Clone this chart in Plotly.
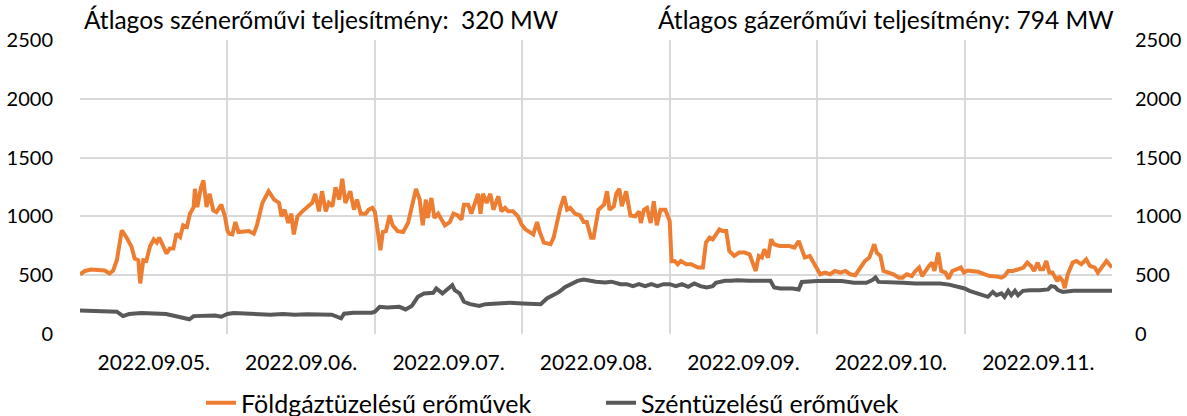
import plotly.graph_objects as go

days = ["2022.09.05.", "2022.09.06.", "2022.09.07.", "2022.09.08.",
        "2022.09.09.", "2022.09.10.", "2022.09.11."]

gas_hours = [0, 0.8, 1.8, 2.9, 4, 4.8, 5.4, 6, 6.5, 6.8, 7.6, 8.4, 8.9, 9.5, 9.8, 10.3, 10.8, 11.4, 12, 12.5,
             12.9, 13.5, 14.1, 14.6, 15.2, 15.7, 16.3, 16.8, 17.4, 17.9, 18.5, 18.7, 19.1, 19.7, 20.1, 20.6,
             21.1, 21.7, 22.2, 23, 23.6, 24, 24.3, 24.8, 25.3, 25.8, 26.7, 27.5, 28.3, 28.8, 29.7, 30.7,
             31.6, 32.4, 32.8, 33.3, 33.9, 34.4, 34.8, 35.4, 36.2, 36.9, 37.8, 38.3, 38.9, 39.4, 40, 40.5,
             41.1, 41.6, 42.2, 42.7, 43.2, 44, 44.6, 45.1, 45.7, 46.5, 47, 47.6, 48, 48.4, 48.9, 49.3, 49.8,
             50.4, 50.9, 51.7, 52.6, 53.4, 54.2, 54.7, 55.3, 55.8, 56.3, 56.6, 57.2, 57.7, 58.3, 58.8, 59.4,
             60.2, 60.8, 61.5, 62.1, 62.5, 63.2, 63.7, 64.3, 64.8, 65.2, 65.6, 66.2, 66.8, 67.3, 68.1, 68.6,
             69.2, 69.7, 70.5, 71.3, 71.9, 72.5, 73.3, 73.8, 74.4, 74.8, 75.5, 76.6, 77.1, 77.6, 78.2, 78.8,
             79.3, 79.8, 80.6, 81.4, 82, 82.5, 83.2, 83.6, 84.4, 85.3, 85.8, 86.2, 86.9, 87.3, 87.8, 88.2,
             88.9, 89.6, 90.4, 91, 91.3, 91.8, 92.3, 92.9, 93.4, 93.9, 94.5, 95.3, 95.9, 96, 96.3, 96.8,
             97.3, 97.8, 98.7, 99.5, 100.6, 101.4, 101.9, 102.5, 103, 103.6, 104.1, 104.6, 105.2, 105.7,
             106.5, 107.3, 108.2, 109, 109.5, 110, 110.5, 111, 111.4, 112, 112.5, 113, 113.9, 114.7, 115.5,
             116.3, 117, 117.5, 118, 118.8, 119.6, 120.1, 120.5, 121.3, 122.1, 122.9, 123.8, 124.6, 125.4,
             126.2, 127, 127.8, 128.5, 128.9, 129.3, 129.7, 130.3, 130.8, 131.6, 132.4, 133.3, 133.9, 134.6,
             135.4, 136, 136.6, 137.1, 137.6, 138.2, 138.7, 139.1, 139.7, 140.2, 140.9, 141.4, 142, 142.8,
             143.4, 143.9, 144.5, 145.1, 146.2, 147.3, 148.1, 149.2, 150, 150.5, 151.1, 151.9, 152.8, 153.6,
             154.2, 154.8, 155.3, 155.9, 156.3, 156.8, 157.3, 157.8, 158.3, 158.7, 159.1, 159.4, 160, 160.3,
             160.8, 161.6, 162.2, 163, 163.8, 164.4, 165.2, 165.7, 166.3, 167.1, 168]
gas_mw = [505, 536, 548, 548, 540, 514, 540, 627, 825, 881, 819, 740, 641, 627, 430, 627, 621, 746, 805, 777,
          819, 746, 684, 726, 726, 853, 825, 924, 910, 1023, 1079, 1234, 1079, 1248, 1305, 1079,
          1192, 1051, 1037, 1100, 1000, 880, 853, 847, 952, 867, 867, 875, 853, 924, 1115, 1214,
          1143, 1115, 1000, 1057, 944, 1023, 847, 1000, 1043, 1072, 1115, 1192, 1043, 1214, 1043, 1115,
          1086, 1248, 1143, 1320, 1115, 1214, 1057, 1143, 1023, 1023, 1057, 1072, 1040, 900, 712, 867, 875,
          1008, 924, 875, 867, 944, 1143, 1234, 1143, 924, 1143, 987, 1157, 987, 1023, 973, 924,
          952, 1023, 1008, 973, 1100, 1100, 1023, 1115, 1192, 1023, 1192, 1115, 1192, 1057, 1171, 1043,
          1072, 1043, 1043, 1000, 930, 890, 867, 847, 952, 875, 777, 763, 819, 952, 1072, 1171,
          1057, 1072, 1023, 1008, 952, 952, 819, 819, 1057, 1100, 1214, 1057, 1086, 1192, 1234, 1086,
          1214, 1008, 1000, 1043, 944, 1057, 1072, 944, 1129, 924, 1057, 1057, 990, 960, 620, 621,
          593, 621, 593, 593, 565, 565, 777, 819, 805, 847, 889, 875, 875, 706,
          664, 692, 692, 678, 607, 536, 664, 650, 720, 650, 805, 763, 748, 748, 748,
          734, 791, 720, 650, 664, 593, 560, 508, 522, 508, 536, 522, 536, 508,
          500, 565, 621, 650, 720, 763, 692, 664, 536, 522, 508, 479, 479, 508,
          493, 536, 565, 493, 536, 579, 607, 536, 692, 536, 522, 470, 536, 550,
          565, 522, 540, 536, 529, 508, 493, 490, 479, 493, 536, 536, 550, 565,
          607, 579, 536, 607, 550, 550, 621, 522, 522, 479, 449, 490, 449, 390,
          508, 607, 621, 593, 635, 579, 565, 522, 565, 621, 565]

coal_hours = [0, 4.8, 6, 7, 8, 10, 12, 14, 16, 17.8, 18.5, 20, 22, 23, 24, 25, 27, 29, 31, 33, 35, 37, 39,
              41, 42.5, 43, 44.5, 46, 47.5, 48, 48.8, 50, 52, 53, 54, 55, 56, 57.5, 58, 59, 60, 60.6, 61,
              61.8, 62.5, 63.5, 65, 66, 68, 70, 72, 73.5, 75, 76, 77, 78, 79, 80, 81, 82, 83, 84, 85.5,
              86.5, 88, 89, 90, 91, 92, 93, 94, 95, 96, 97, 98, 99, 100, 101, 102, 103, 103.5, 105, 106,
              107, 109, 111, 112.4, 113, 114, 116, 117, 117.5, 119, 120, 122, 124, 126, 128, 129, 129.5,
              130, 132, 134, 136, 138, 140, 141.5, 143, 144, 144.8, 145.9, 147, 147.8, 148.6, 149.2, 150,
              150.5, 151.1, 151.6, 152.2, 152.7, 153.5, 154.6, 156.2, 157.6, 158.1, 158.7, 159.2, 160,
              161.7, 163.8, 166, 168]
coal_mw = [200, 197, 190, 152, 170, 178, 173, 170, 147, 125, 152, 152, 158, 147, 170, 178, 173, 170, 164, 170,
           164, 167, 164, 164, 133, 173, 181, 181, 181, 190, 231, 226, 231, 209, 238, 316, 345, 350, 387,
           345, 385, 415, 373, 345, 274, 254, 238, 254, 260, 266, 260, 254, 254, 302, 330, 358, 401, 430,
           452, 463, 452, 445, 438, 445, 424, 424, 407, 424, 407, 424, 407, 424, 424, 407, 424, 401, 430,
           407, 396, 407, 435, 452, 452, 458, 452, 452, 452, 396, 387, 387, 379, 443, 452, 450, 452, 450,
           435, 435, 458, 480, 443, 443, 435, 430, 430, 430, 420, 405, 387, 367, 345, 330, 316, 358, 330,
           345, 316, 367, 330, 367, 330, 367, 373, 373, 379, 407, 401, 373, 358, 367, 367, 367, 367]

y_ticks = [0, 500, 1000, 1500, 2000, 2500]

gas_name = "Földgáztüzelésű erőművek"
coal_name = "Széntüzelésű erőművek"
coal_avg_text = "Átlagos szénerőművi teljesítmény:  320 MW"
gas_avg_text = "Átlagos gázerőművi teljesítmény: 794 MW"

FONT = "Lato"
GRID = "#D9D9D9"
TXT = "#000000"

fig = go.Figure()
fig.add_trace(go.Scatter(x=gas_hours, y=gas_mw, mode="lines", name=gas_name,
                         line=dict(color="#ED7D31", width=4)))
fig.add_trace(go.Scatter(x=coal_hours, y=coal_mw, mode="lines", name=coal_name,
                         line=dict(color="#595959", width=4)))
# invisible trace to activate right axis
fig.add_trace(go.Scatter(x=[0], y=[0], yaxis="y2", mode="lines", showlegend=False,
                         hoverinfo="skip", line=dict(width=0)))

tickvals = [12 + 24 * i for i in range(len(days))]

FIG_H = 430

fig.update_layout(
    width=1187, height=FIG_H,
    margin=dict(l=80, r=75, t=40, b=96, autoexpand=False),
    paper_bgcolor="white", plot_bgcolor="white",
    font=dict(family=FONT, size=20, color=TXT),
    showlegend=True,
    legend=dict(orientation="h", xref="container", yref="container",
                x=201 / 1187, xanchor="left", y=27 / FIG_H, yanchor="middle",
                font=dict(family=FONT, size=25, color=TXT),
                entrywidth=355, entrywidthmode="pixels",
                bgcolor="rgba(0,0,0,0)"),
    xaxis=dict(range=[0, 168], tickmode="array", tickvals=tickvals, ticktext=days,
               showgrid=False, zeroline=False, ticks="", showline=False, automargin=False,
               ticklabelstandoff=14, tickfont=dict(size=21),
               minor=dict(tickmode="linear", tick0=0, dtick=24, showgrid=True,
                          gridcolor=GRID, gridwidth=1.5, ticks="")),
    yaxis=dict(range=[0, 2500], tickvals=y_ticks,
               showgrid=True, gridcolor=GRID, gridwidth=1.5, zeroline=False, automargin=False,
               ticks="", showline=False, ticklabelstandoff=26, tickfont=dict(size=20)),
    yaxis2=dict(range=[0, 2500], tickvals=y_ticks, automargin=False,
                overlaying="y", side="right", showgrid=False, zeroline=False,
                ticks="", showline=False, ticklabelstandoff=22, tickfont=dict(size=20)),
    annotations=[
        dict(text=coal_avg_text, xref="paper", yref="paper", x=0.004, y=1,
             xanchor="left", yanchor="bottom", yshift=4, xshift=-2, showarrow=False,
             font=dict(family=FONT, size=24.5, color=TXT)),
        dict(text=gas_avg_text, xref="paper", yref="paper", x=1.0, y=1,
             xanchor="right", yanchor="bottom", yshift=4, xshift=4, showarrow=False,
             font=dict(family=FONT, size=24.5, color=TXT)),
    ],
)

fig.write_html("out.html", config={"displayModeBar": False},
               post_script="document.body.style.margin='0';document.body.style.overflow='hidden';")
